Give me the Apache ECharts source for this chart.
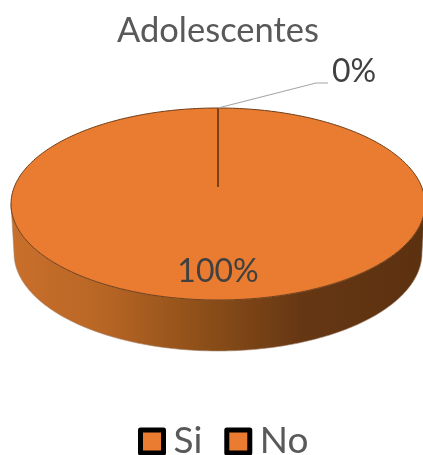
<!DOCTYPE html>
<html>
<head>
<meta charset="utf-8">
<style>html,body{margin:0;padding:0;background:#fff}#c{width:423px;height:455px}</style>
<script src="https://cdn.jsdelivr.net/npm/echarts@6/dist/echarts.min.js"></script>
</head>
<body>
<div id="c"></div>
<script>
const chartTitle = 'Adolescentes';
const categories = ['Si', 'No'];
const values = [100, 0];

const TOP = {cx: 218, cy: 204, rx: 207, ry: 96};
const BASE = {cx: 218, cy: 253, rx: 204, ry: 98};
const APEX_Y = 187;
const FILL = '#e97c30';

const total = values.reduce((a, b) => a + b, 0);
const starts = values.map((v, i) => values.slice(0, i).reduce((a, b) => a + b, 0) / total * 360);
const rim = (e, deg) => {
  const t = deg * Math.PI / 180;
  return [e.cx + e.rx * Math.sin(t), e.cy - e.ry * Math.cos(t)];
};
const arc = (e, from, to) => {
  const n = Math.max(1, Math.ceil(Math.abs(to - from)));
  const pts = [];
  for (let i = 0; i <= n; i++) pts.push(rim(e, from + (to - from) * i / n));
  return pts;
};

function renderSlice(params, api) {
  const i = params.seriesIndex;
  const share = api.value(0) / total * 360;
  const a0 = starts[i], a1 = a0 + share;
  const children = [];
  const f0 = Math.max(a0, 90), f1 = Math.min(a1, 270);
  if (f1 > f0) {
    children.push({
      type: 'polygon',
      shape: {points: arc(TOP, f0, f1).concat(arc(BASE, f1, f0))},
      style: {
        fill: {type: 'linear', x: 0, y: 0, x2: 1, y2: 0, colorStops: [
          {offset: 0, color: '#c96f2b'}, {offset: 0.22, color: '#b96625'},
          {offset: 0.45, color: '#8f5019'}, {offset: 0.7, color: '#663713'},
          {offset: 1, color: '#5c3110'}
        ]},
        stroke: '#a88a76', lineWidth: 0.6
      }
    });
  }
  if (share > 0) {
    children.push({
      type: 'polygon',
      shape: {points: [[TOP.cx, APEX_Y]].concat(arc(TOP, a0, a1))},
      style: {fill: FILL}
    });
    children.push({
      type: 'polyline',
      shape: {points: arc(TOP, a0, a1)},
      style: {fill: 'none', stroke: '#6e3d17', lineWidth: 1}
    });
    const m = (a0 + a1) / 2;
    const p = rim({cx: TOP.cx, cy: TOP.cy, rx: TOP.rx * 0.7, ry: TOP.ry * 0.71}, m);
    children.push({
      type: 'text',
      style: {
        x: p[0], y: p[1], text: Math.round(api.value(0) / total * 100) + '%',
        font: '32px Lato', fill: '#404040', align: 'center', verticalAlign: 'middle'
      }
    });
  } else {
    const r = rim(TOP, a0);
    children.push({
      type: 'line',
      shape: {x1: r[0], y1: r[1], x2: TOP.cx, y2: APEX_Y},
      style: {stroke: '#7f3f12', lineWidth: 2}
    });
    children.push({
      type: 'polyline',
      shape: {points: [r, [r[0] + 98, r[1] - 25], [r[0] + 110, r[1] - 25]]},
      style: {fill: 'none', stroke: '#a6a6a6', lineWidth: 1.2}
    });
    children.push({
      type: 'text',
      style: {
        x: r[0] + 114, y: r[1] - 36, text: Math.round(api.value(0) / total * 100) + '%',
        font: '32px Lato', fill: '#404040', align: 'left', verticalAlign: 'middle'
      }
    });
  }
  return {type: 'group', children};
}

const chart = echarts.init(document.getElementById('c'), null, {renderer: 'canvas'});
chart.setOption({
  animation: false,
  backgroundColor: '#ffffff',
  title: {
    text: chartTitle, left: 117, top: 13, padding: 0,
    textStyle: {fontFamily: 'Lato', fontSize: 34.5, fontWeight: 'normal', color: '#595959'}
  },
  legend: {
    data: categories, left: 138, top: 423, padding: 0, itemGap: 22,
    itemWidth: 23, itemHeight: 23, icon: 'rect',
    itemStyle: {borderColor: '#000', borderWidth: 5, borderJoin: 'round'},
    textStyle: {fontFamily: 'Lato', fontSize: 37, color: '#595959', padding: [0, 0, 0, 5]}
  },
  series: categories.map((name, i) => ({
    type: 'custom', name, coordinateSystem: 'none',
    itemStyle: {color: FILL},
    renderItem: renderSlice,
    data: [[values[i]]]
  }))
});
</script>
</body>
</html>
